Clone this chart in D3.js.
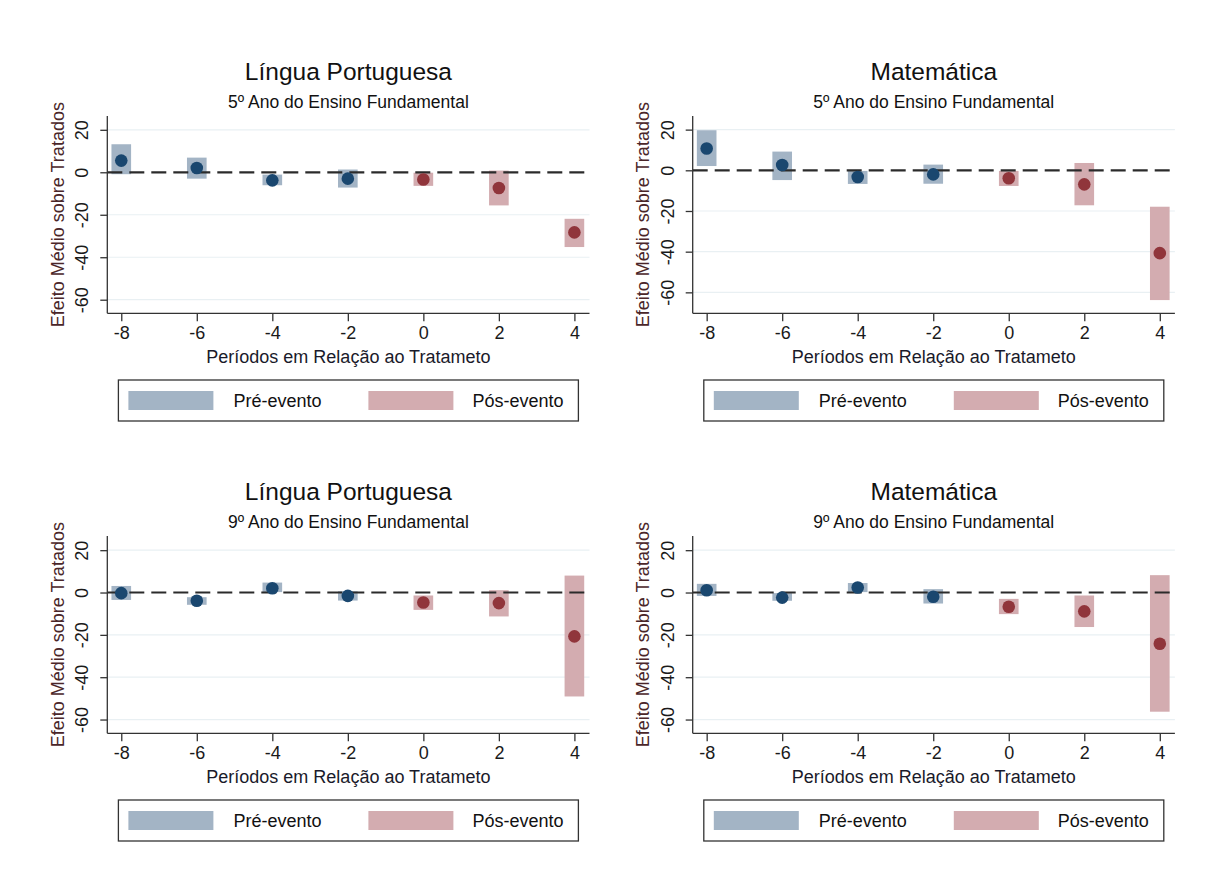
<!DOCTYPE html>
<html>
<head>
<meta charset="utf-8">
<script src="https://cdn.jsdelivr.net/npm/d3@7"></script>
<style>
  body { margin: 0; background: #fff; }
  svg { display: block; font-family: "Liberation Sans", Arial, sans-serif; }
  .axis path, .axis line { stroke: #333; stroke-width: 1.3; }
  .axis text { fill: #1a1a1a; font-size: 18px; }
</style>
</head>
<body>
<div id="graph"></div>
<script>
// periods relative to treatment
var periods = [-8, -6, -4, -2, 0, 2, 4];
var yTicks = [20, 0, -20, -40, -60];

var titles = ['Língua Portuguesa', 'Matemática', 'Língua Portuguesa', 'Matemática'];
var subtitles = ['5º Ano do Ensino Fundamental', '5º Ano do Ensino Fundamental',
                 '9º Ano do Ensino Fundamental', '9º Ano do Ensino Fundamental'];

// point estimates, one list per panel
var coefLP5 = [5.5, 2.0, -3.8, -3.0, -3.4, -7.4, -28.3];
var coefMT5 = [10.7, 2.6, -3.3, -2.0, -3.9, -6.9, -40.7];
var coefLP9 = [-0.3, -3.9, 2.0, -1.6, -4.7, -5.0, -20.7];
var coefMT9 = [1.1, -2.4, 2.4, -2.0, -6.7, -8.9, -24.2];

// confidence interval upper bounds
var hiLP5 = [13.2, 6.9, -1.1, 1.3, -0.2, 0.8, -21.9];
var hiMT5 = [19.7, 9.2, -0.3, 2.8, -0.3, 3.6, -17.9];
var hiLP9 = [3.1, -2.2, 4.7, 0.6, -1.4, 1.1, 8.0];
var hiMT9 = [4.1, -0.3, 4.5, 1.6, -3.0, -1.4, 8.2];

// confidence interval lower bounds
var loLP5 = [-0.9, -3.0, -6.1, -7.2, -6.4, -15.6, -35.2];
var loMT5 = [2.1, -4.8, -6.7, -6.6, -7.7, -17.2, -63.8];
var loLP9 = [-3.5, -5.8, 0.2, -3.8, -8.2, -11.3, -49.1];
var loMT9 = [-1.6, -3.9, 0.2, -5.2, -10.2, -16.3, -56.3];

// y ranges of each panel
var yRangeLP5 = [-66.4, 26.5];
var yRangeMT5 = [-70.3, 26.7];
var yRangeLP9 = [-66.5, 26.7];
var yRangeMT9 = [-66.5, 26.7];
var xRange = [-8.37, 4.4];

var legendLabels = ['Pré-evento', 'Pós-evento'];

var panels = [
  { coef: coefLP5, hi: hiLP5, lo: loLP5, yr: yRangeLP5, dx: 0, dy: 0 },
  { coef: coefMT5, hi: hiMT5, lo: loMT5, yr: yRangeMT5, dx: 585.4, dy: 0 },
  { coef: coefLP9, hi: hiLP9, lo: loLP9, yr: yRangeLP9, dx: 0, dy: 420 },
  { coef: coefMT9, hi: hiMT9, lo: loMT9, yr: yRangeMT9, dx: 585.4, dy: 420 }
];

var blue = '#1a476f', red = '#90353b';
var blueCI = '#a3b4c5', redCI = '#d3acb0';

var svg = d3.select('#graph').append('svg')
  .attr('width', 1207)
  .attr('height', 885);

// plot area inside each panel (window.top is reserved, so prefix these)
var plotLeft = 107.3, plotRight = 589.5, plotTop = 116, plotBottom = 313.3;

panels.forEach(function(p, i) {
  var g = svg.append('g')
    .attr('transform', 'translate(' + p.dx + ',' + p.dy + ')');

  var x = d3.scaleLinear().domain(xRange).range([plotLeft, plotRight]);
  var y = d3.scaleLinear().domain(p.yr).range([plotBottom, plotTop]);

  var data = periods.map(function(t, j) {
    return { t: t, c: p.coef[j], hi: p.hi[j], lo: p.lo[j] };
  });

  // gridlines
  g.selectAll('line.grid')
    .data(yTicks.filter(function(d) { return d !== 0; }))
    .enter().append('line')
    .attr('class', 'grid')
    .attr('x1', plotLeft).attr('x2', plotRight)
    .attr('y1', function(d) { return y(d); })
    .attr('y2', function(d) { return y(d); })
    .attr('stroke', '#e9f0f3')
    .attr('stroke-width', 1.2);

  // confidence boxes
  g.selectAll('rect.ci')
    .data(data)
    .enter().append('rect')
    .attr('class', 'ci')
    .attr('x', function(d) { return x(d.t - 0.26); })
    .attr('width', function(d) { return x(d.t + 0.26) - x(d.t - 0.26); })
    .attr('y', function(d) { return y(d.hi); })
    .attr('height', function(d) { return y(d.lo) - y(d.hi); })
    .attr('fill', function(d) { return d.t < 0 ? blueCI : redCI; });

  // zero reference line
  g.append('line')
    .attr('x1', plotLeft).attr('x2', plotRight)
    .attr('y1', y(0)).attr('y2', y(0))
    .attr('stroke', '#2b2b2b')
    .attr('stroke-width', 2.2)
    .attr('stroke-dasharray', '15,7');

  // point estimates
  g.selectAll('circle.pt')
    .data(data)
    .enter().append('circle')
    .attr('class', 'pt')
    .attr('cx', function(d) { return x(d.t); })
    .attr('cy', function(d) { return y(d.c); })
    .attr('r', 6.3)
    .attr('fill', function(d) { return d.t < 0 ? blue : red; });

  // axes
  var xa = g.append('g')
    .attr('class', 'axis')
    .attr('transform', 'translate(0,' + plotBottom + ')')
    .call(d3.axisBottom(x).tickValues(periods).tickSizeOuter(0).tickSize(8).tickPadding(5)
      .tickFormat(function(d) { return String(d); }));
  xa.select('.domain').attr('d', 'M' + plotLeft + ',0H' + plotRight);

  var ya = g.append('g')
    .attr('class', 'axis')
    .attr('transform', 'translate(' + plotLeft + ',0)')
    .call(d3.axisLeft(y).tickValues(yTicks).tickSizeOuter(0).tickSize(7)
      .tickFormat(function(d) { return String(d); }));
  ya.selectAll('.tick text')
    .attr('transform', 'rotate(-90)')
    .attr('x', 0)
    .attr('y', -19)
    .attr('dy', 0)
    .attr('text-anchor', 'middle');
  ya.select('.domain').attr('d', 'M0,' + plotTop + 'V' + plotBottom);

  // titles
  var cx = (plotLeft + plotRight) / 2;
  g.append('text')
    .attr('x', cx).attr('y', 80)
    .attr('text-anchor', 'middle')
    .attr('font-size', 24.5)
    .attr('fill', '#111')
    .text(titles[i]);
  g.append('text')
    .attr('x', cx).attr('y', 108)
    .attr('text-anchor', 'middle')
    .attr('font-size', 17.5)
    .attr('fill', '#111')
    .text(subtitles[i]);

  // axis titles
  g.append('text')
    .attr('x', cx).attr('y', 363)
    .attr('text-anchor', 'middle')
    .attr('font-size', 18)
    .attr('fill', '#1a1a2a')
    .text('Períodos em Relação ao Tratameto');
  g.append('text')
    .attr('transform', 'translate(64,' + ((plotTop + plotBottom) / 2) + ') rotate(-90)')
    .attr('text-anchor', 'middle')
    .attr('font-size', 18)
    .attr('fill', '#4a2629')
    .text('Efeito Médio sobre Tratados');

  // legend
  var lw = 460, lx = cx - lw / 2;
  var lg = g.append('g').attr('transform', 'translate(' + lx + ',380)');
  lg.append('rect')
    .attr('width', lw).attr('height', 41)
    .attr('fill', '#fff')
    .attr('stroke', '#333')
    .attr('stroke-width', 1.3);
  [[blueCI, 10, 115], [redCI, 250, 354]].forEach(function(item, k) {
    lg.append('rect')
      .attr('x', item[1]).attr('y', 11)
      .attr('width', 85).attr('height', 19)
      .attr('fill', item[0]);
    lg.append('text')
      .attr('x', item[2]).attr('y', 27)
      .attr('font-size', 18)
      .attr('fill', '#111')
      .text(legendLabels[k]);
  });
});
</script>
</body>
</html>
